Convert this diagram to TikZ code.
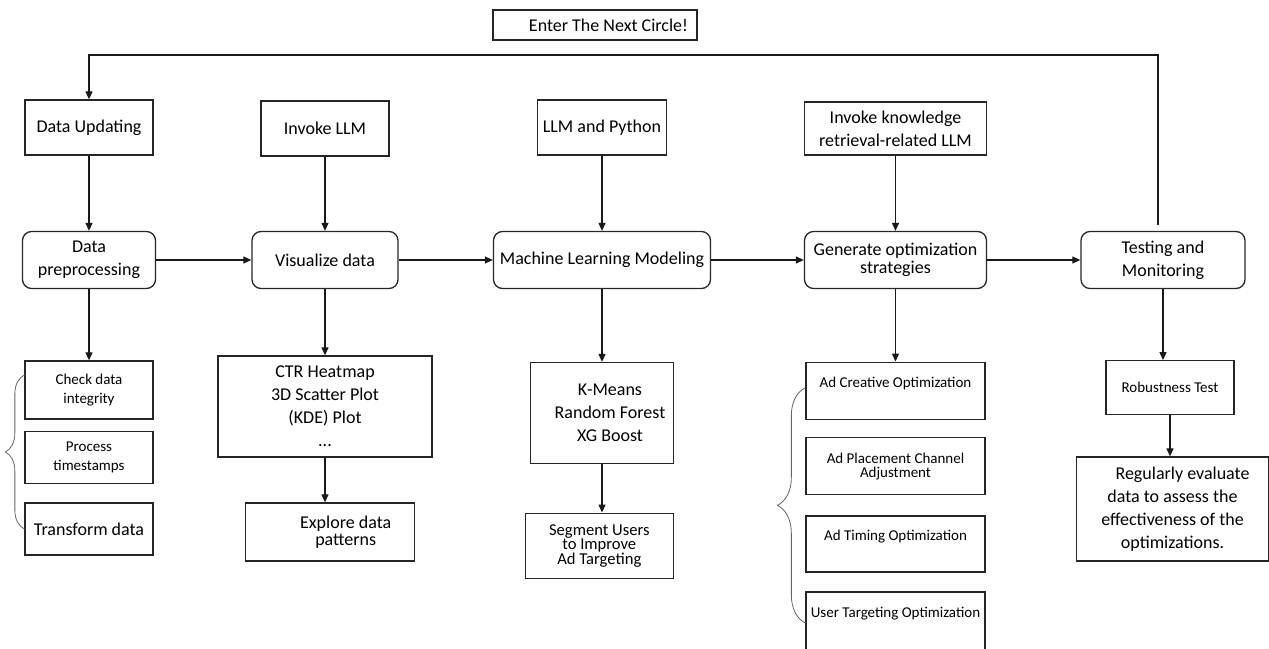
\documentclass[tikz,border=0pt]{standalone}
\usepackage{fontspec}
\setmainfont{Carlito}
\usetikzlibrary{arrows.meta,decorations.pathreplacing}
\begin{document}
\begin{tikzpicture}[x=1pt,y=-1pt,>={Triangle[length=8pt,width=7pt]},
  box/.style={draw=black!85,line width=1.3pt,inner sep=2pt,align=center,font=\fontsize{18}{23}\selectfont},
  sbox/.style={box,font=\fontsize{15}{19}\selectfont},
  rbox/.style={box,rounded corners=9pt},
  uptext/.style={text depth=17pt},
  line/.style={line width=1.2pt,draw=black!90},
  curly/.style={decorate,line width=0.8pt,draw=black!60}]
\useasboundingbox (0,0) rectangle (1269,648);
\node[box,minimum width=204pt,minimum height=30pt,inner ysep=0pt] (next) at (595,25) {\hspace*{27pt}Enter The Next Circle!};
\node[box,minimum width=128pt,minimum height=55pt] (upd) at (89,127.5) {Data Updating};
\node[box,minimum width=128pt,minimum height=55pt] (inv) at (325,128.5) {Invoke LLM};
\node[box,minimum width=129pt,minimum height=55pt] (pyt) at (602,127.5) {LLM and Python};
\node[box,minimum width=182pt,minimum height=53pt] (know) at (895.5,128.5) {Invoke knowledge\\retrieval-related LLM};
\node[rbox,minimum width=133pt,minimum height=57pt] (pre) at (89,260) {Data\\preprocessing};
\node[rbox,minimum width=146pt,minimum height=57pt] (vis) at (325,260) {Visualize data};
\node[rbox,minimum width=217pt,minimum height=57pt] (mlm) at (602,260) {Machine Learning Modeling};
\node[rbox,minimum width=182pt,minimum height=57pt,font=\fontsize{18}{18.5}\selectfont] (gen) at (895.5,260) {Generate optimization\\strategies};
\node[rbox,minimum width=164pt,minimum height=57pt] (test) at (1163,260) {Testing and\\Monitoring};
\node[sbox,minimum width=128pt,minimum height=58pt] (chk) at (89,390) {Check data\\integrity};
\node[sbox,minimum width=128pt,minimum height=52pt] (tim) at (89,457.5) {Process\\timestamps};
\node[box,minimum width=128pt,minimum height=52pt] (trf) at (89,529) {Transform data};
\node[box,minimum width=214pt,minimum height=101pt] (ctr) at (325,406.5) {CTR Heatmap\\3D Scatter Plot\\(KDE) Plot\\...};
\node[box,minimum width=169pt,minimum height=58pt,font=\fontsize{18}{17}\selectfont] (exp) at (329.7,532) {\hspace*{32pt}Explore data\\\hspace*{32pt}patterns};
\node[box,minimum width=143pt,minimum height=101pt] (kmn) at (602,413) {\hspace*{16pt}K-Means\\\hspace*{16pt}Random Forest\\\hspace*{16pt}XG Boost};
\node[box,minimum width=148pt,minimum height=65pt,font=\fontsize{16.6}{14.5}\selectfont] (seg) at (599.3,545.7) {Segment Users\\to Improve\\Ad Targeting};
\node[sbox,uptext,minimum width=179pt,minimum height=57pt] (acr) at (895.5,390.7) {Ad Creative Optimization};
\node[sbox,minimum width=179pt,minimum height=57pt,font=\fontsize{15}{14}\selectfont] (apl) at (895.5,466.3) {Ad Placement Channel\\Adjustment};
\node[sbox,uptext,minimum width=179pt,minimum height=56pt] (atm) at (895.5,544) {Ad Timing Optimization};
\node[sbox,uptext,minimum width=179pt,minimum height=58pt] (utg) at (895.5,621) {User Targeting Optimization};
\node[sbox,minimum width=128pt,minimum height=54pt] (rob) at (1170,387.7) {Robustness Test};
\node[box,minimum width=192pt,minimum height=104pt] (reg) at (1172.5,509) {\hspace*{20pt}Regularly evaluate\\data to assess the\\effectiveness of the\\optimizations.};
\coordinate (top) at (0,55);
\draw[line,->] (upd) -- (pre);
\draw[line,->] (inv) -- (vis);
\draw[line,->] (pyt) -- (mlm);
\draw[line,->] (know) -- (gen);
\draw[line,->] (pre) -- (vis);
\draw[line,->] (vis) -- (mlm);
\draw[line,->] (mlm) -- (gen);
\draw[line,->] (gen) -- (test);
\draw[line,->] (pre) -- (chk);
\draw[line,->] (vis) -- (ctr);
\draw[line,->] (ctr.south) -- (ctr.south |- exp.north);
\draw[line,->] (mlm) -- (kmn);
\draw[line,->] (kmn.south) -- (kmn.south |- seg.north);
\draw[line,->] (gen) -- (acr);
\draw[line,->] (test.south) -- (test.south |- rob.north);
\draw[line,->] (rob.south) -- (rob.south |- reg.north);
\draw[line,->] ([xshift=-5pt,yshift=6pt]test.north) -- ([xshift=-5pt]test.north |- top) -| (upd.north);
\draw[curly,decoration={brace,amplitude=19pt}] (trf.west) -- ([yshift=15pt]chk.west);
\draw[curly,decoration={brace,amplitude=28pt}] ([yshift=-2pt]utg.west) -- ([yshift=3pt]acr.west);
\end{tikzpicture}
\end{document}
